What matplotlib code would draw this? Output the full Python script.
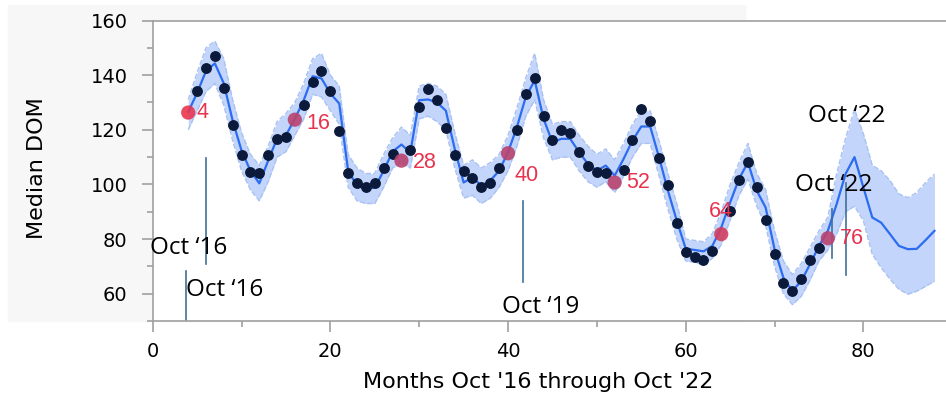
import matplotlib
matplotlib.use('Agg')
import matplotlib.pyplot as plt
from matplotlib.patches import Rectangle
from matplotlib.ticker import MultipleLocator

# model fit with band, months 4..88
fit_months = list(range(4, 89))
fit = [126.5, 133.5, 141.5, 144.3, 137, 123.4, 112.4, 105, 100.4, 108.7,
       116.8, 118, 124, 130.8, 139.6, 138.8, 133.3, 129.6, 105, 99.5,
       98.4, 98.8, 105, 112, 114.6, 111.7, 130.8, 131.1, 130, 127,
       113, 100.7, 102.6, 99.5, 101.4, 105, 111.8, 121, 132, 138.1,
       124, 115.4, 116.7, 116.7, 111.8, 107.5, 105, 106.9, 103.2, 109.3,
       116, 121.2, 121.2, 109.9, 97.7, 86.7, 76.5, 76, 75.5, 77.5,
       84.2, 93.4, 102, 108.1, 97.7, 91.5, 76.3, 65.8, 61, 64.6,
       70.8, 77.5, 83, 92.9, 103.9, 110, 98.9, 87.9, 86, 81.8,
       77.5, 76.3, 76.4, 79.6, 83]
fit_hi = [131, 141, 150, 152.5, 146, 131, 119, 111, 107, 114,
          123, 126, 130, 137, 146, 148, 140, 136, 111, 106,
          104, 104, 111, 117, 121, 118, 136, 137, 136, 133,
          119, 107, 109, 106, 108, 111, 118, 128, 139, 148,
          131, 122, 123, 123, 118, 114, 111, 113, 109, 115,
          122, 127, 127, 116, 104, 93, 80, 79.5, 79, 82,
          90, 100, 108, 115, 104, 98, 83, 72, 67, 71,
          77, 83, 88, 104, 117, 127.5, 118.5, 107, 105, 101.4,
          96.5, 95.2, 97, 100.7, 103.8]
fit_lo = [120, 127, 134, 137, 129, 116, 105, 98, 94, 101,
          110, 112, 118, 124, 133, 132, 127, 122, 99, 94,
          93, 93, 99, 106, 108, 106, 124, 125, 123, 120,
          106, 95, 96, 93, 95, 99, 105, 114, 125, 131,
          117, 109, 110, 110, 105, 101, 99, 101, 97, 103,
          110, 115, 115, 103, 91, 80, 72, 71.5, 70.5, 73,
          78, 87, 96, 102, 92, 85, 70, 60, 56, 59,
          65, 72, 76, 82, 90, 92, 86.7, 74.4, 69.5, 65.3,
          61.6, 59.8, 60.9, 62.7, 64.6]

# October points (highlighted)
oct_months = [4, 16, 28, 40, 52, 64, 76]
oct_vals = [126.3, 123.7, 108.7, 111.4, 100.7, 81.8, 80.3]
oct_colors = ['#e8354f', '#b8436e', '#b8436e', '#b8436e', '#b8436e', '#d23d60', '#b8436e']
oct_offsets = [(6, 0), (8, -3), (8, -1), (5, -16), (8, 0), (-9, 16), (9, 0)]

# observed monthly medians (other months)
obs_months = [m for m in range(5, 76) if m not in oct_months]
obs = [134.1, 142.6, 147.1, 135.2, 121.8, 110.6, 104.4, 104.0, 110.8, 116.7,
       117.3, 129.2, 137.6, 141.6, 134.2, 119.6, 104.2, 100.6, 99.0,
       100.6, 106.0, 111.0, 112.6, 128.3, 134.9, 130.8, 120.7, 110.7,
       104.8, 102.4, 99.2, 100.6, 106.0, 120.1, 133.2, 139.1, 124.9,
       116.3, 120.0, 118.9, 111.8, 106.8, 104.7, 104.2, 105.4, 116.1,
       127.5, 123.3, 109.6, 99.8, 86.0, 75.3, 73.5, 72.4, 75.6,
       90.3, 101.6, 108.3, 99.2, 86.9, 74.4, 63.8, 60.9, 65.2, 72.2,
       76.7]

# vertical markers (x, y0, y1) and their text
vlines = [(6, 70.7, 109.6), (3.75, 50, 68.3), (41.7, 64.2, 94),
          (76.5, 73.2, 91), (78, 67, 100.7)]
notes = [(-0.3, 76.7, "Oct \u201816"), (3.7, 61.4, "Oct \u201816"),
         (39.3, 55.1, "Oct \u201819"), (73.8, 125.0, "Oct \u201822"),
         (72.3, 99.8, "Oct \u201822")]

plt.rcParams['font.family'] = ['DejaVu Sans']

fig = plt.figure(figsize=(9.46, 3.96), dpi=100)
fig.patches.append(Rectangle((8 / 946, 1 - 321 / 396), 737 / 946, 316 / 396,
                             transform=fig.transFigure, color='#f7f7f7', zorder=-10))
ax = fig.add_axes([0.1614, 0.1894, 0.8386, 0.7588])
ax.set_zorder(1)
ax.set_facecolor('white')

ax.fill_between(fit_months, fit_lo, fit_hi, color='#c3d5fa', lw=0, zorder=1)
ax.plot(fit_months, fit_hi, color='#a9c2f3', lw=1, ls='--', zorder=1)
ax.plot(fit_months, fit_lo, color='#a9c2f3', lw=1, ls='--', zorder=1)
ax.plot(fit_months, fit, color='#2b6cf0', lw=1.6, zorder=2)
ax.plot(obs_months, obs, 'o', color='#0b1a3a', ms=6.8, zorder=3)
ax.scatter(oct_months, oct_vals, s=105, c=oct_colors, alpha=0.9,
           edgecolors='none', zorder=4)
for m, v, off in zip(oct_months, oct_vals, oct_offsets):
    ax.annotate(str(m), (m, v), xytext=off, textcoords='offset points',
                color='#e8334f', fontsize=15.5, family='Liberation Sans',
                va='center', ha='left', zorder=5)

for x, y0, y1 in vlines:
    ax.plot([x, x], [y0, y1], color='#3f6f9a', lw=1.2, zorder=2)
for x, y, s in notes:
    ax.text(x, y, s, family='Open Sans', fontsize=17.5, va='center', ha='left',
            color='black', zorder=5)

ax.set_xlim(0, 89.3)
ax.set_ylim(50, 160)
ax.xaxis.set_major_locator(MultipleLocator(20))
ax.xaxis.set_minor_locator(MultipleLocator(10))
ax.yaxis.set_major_locator(MultipleLocator(20))
ax.yaxis.set_minor_locator(MultipleLocator(10))
ax.tick_params(which='major', length=8, width=1.2, color='#a0a0a0', labelsize=14)
ax.tick_params(axis='y', which='major', pad=10)
ax.tick_params(axis='x', which='major', pad=7)
ax.tick_params(which='minor', length=4, width=1.2, color='#a0a0a0')
ax.spines['right'].set_visible(False)
for side in ['left', 'bottom', 'top']:
    ax.spines[side].set_color('#a0a0a0')
    ax.spines[side].set_linewidth(1.2)

fig.text(538.5 / 946, 1 - 382 / 396, "Months Oct '16 through Oct '22",
         fontsize=16, ha='center', va='center')
fig.text(36.7 / 946, 1 - 168 / 396, 'Median DOM', fontsize=16,
         rotation=90, ha='center', va='center')

fig.savefig('out.png', dpi=100)
